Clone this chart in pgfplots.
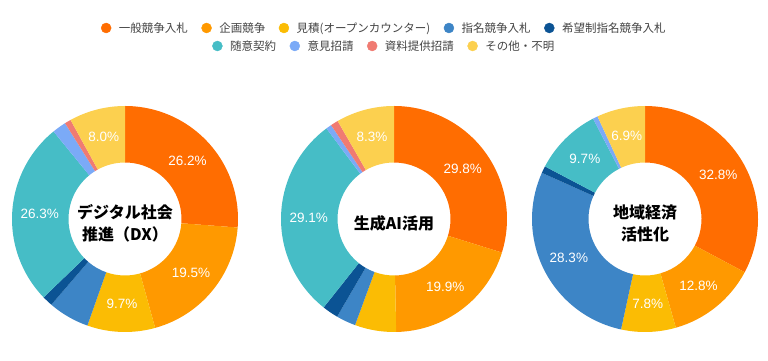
\documentclass[border=0pt]{standalone}
\usepackage{pgfplots}
\pgfplotsset{compat=1.18}
\usepackage{fontspec}
\setmainfont{Noto Sans CJK JP}
\newfontfamily\lab{Liberation Sans}
\definecolor{cA}{HTML}{FF6D01}
\definecolor{cB}{HTML}{FF9900}
\definecolor{cC}{HTML}{FBBC04}
\definecolor{cD}{HTML}{3D85C6}
\definecolor{cE}{HTML}{0B5394}
\definecolor{cF}{HTML}{46BDC6}
\definecolor{cG}{HTML}{7BAAF7}
\definecolor{cH}{HTML}{F07B72}
\definecolor{cI}{HTML}{FCD04F}
\definecolor{lgray}{HTML}{444444}
\newcommand{\drawdonut}[1]{%
 \pgfplotsextra{%
  \gdef\cum{0}%
  \foreach \v/\c/\l in {#1}{%
    \pgfmathsetmacro\a{90-3.6*\cum}%
    \pgfmathsetmacro\b{90-3.6*(\cum+\v)}%
    \pgfmathsetmacro\m{(\a+\b)/2}%
    \fill[\c] (axis cs:{cos(\a)},{sin(\a)}) arc[start angle=\a,end angle=\b,radius=113pt] -- (axis cs:{0.5*cos(\b)},{0.5*sin(\b)}) arc[start angle=\b,end angle=\a,radius=56.5pt] -- cycle;
    \ifnum\l=1 \node[text=white,font=\lab\fontsize{13.5}{14}\selectfont] at (axis cs:{0.755*cos(\m)},{0.755*sin(\m)}) {\v\%};\fi
    \pgfmathsetmacro\nc{\cum+\v}%
    \xdef\cum{\nc}%
  }%
 }%
}
\pgfplotsset{donut/.style={anchor=center, x=113pt, y=113pt, xmin=-1, xmax=1, ymin=-1, ymax=1, hide axis, clip=false},
 legrow/.style={anchor=center, hide axis, xmin=0, xmax=1, ymin=0, ymax=1, width=2cm, height=1cm, scale only axis,
   legend style={at={(0.5,0.5)}, anchor=center, draw=none, fill=none, font=\fontsize{11.5}{12}\selectfont, text=lgray,
   /tikz/every odd column/.append style={column sep=6pt}, /tikz/every even column/.append style={column sep=12pt}, nodes={inner sep=1.5pt}},
   legend image code/.code={\fill (0pt,0pt) circle (5pt);}}}
\begin{document}
\begin{tikzpicture}
\fill[white] (0,0) rectangle (768pt,361pt);
\useasboundingbox (0,0) rectangle (768pt,361pt);
\begin{axis}[donut, at={(125pt,142pt)}]
\drawdonut{26.2/cA/1, 19.5/cB/1, 9.7/cC/1, 5.9/cD/0, 1.5/cE/0, 26.3/cF/1, 2.0/cG/0, 0.9/cH/0, 8.0/cI/1}
\node[align=center,font=\bfseries\fontsize{16}{22}\selectfont] at (axis cs:0,-0.04) {デジタル社会\\推進（DX）};
\end{axis}
\begin{axis}[donut, at={(394pt,142pt)}]
\drawdonut{29.8/cA/1, 19.9/cB/1, 5.9/cC/0, 2.8/cD/0, 2.3/cE/0, 29.1/cF/1, 0.8/cG/0, 1.1/cH/0, 8.3/cI/1}
\node[align=center,font=\bfseries\fontsize{16}{22}\selectfont] at (axis cs:0,-0.035) {生成AI活用};
\end{axis}
\begin{axis}[donut, at={(645pt,142pt)}]
\drawdonut{32.8/cA/1, 12.8/cB/1, 7.8/cC/1, 28.3/cD/1, 1.0/cE/0, 9.7/cF/1, 0.7/cG/0, 6.9/cI/1}
\node[align=center,font=\bfseries\fontsize{16}{22}\selectfont] at (axis cs:0,-0.04) {地域経済\\活性化};
\end{axis}
\begin{axis}[legrow, at={(384pt,333pt)}, legend columns=5]
\addlegendimage{cA}\addlegendentry{一般競争入札}
\addlegendimage{cB}\addlegendentry{企画競争}
\addlegendimage{cC}\addlegendentry{見積(オープンカウンター)}
\addlegendimage{cD}\addlegendentry{指名競争入札}
\addlegendimage{cE}\addlegendentry{希望制指名競争入札}
\end{axis}
\begin{axis}[legrow, at={(384pt,315pt)}, legend columns=4]
\addlegendimage{cF}\addlegendentry{随意契約}
\addlegendimage{cG}\addlegendentry{意見招請}
\addlegendimage{cH}\addlegendentry{資料提供招請}
\addlegendimage{cI}\addlegendentry{その他・不明}
\end{axis}
\end{tikzpicture}
\end{document}
